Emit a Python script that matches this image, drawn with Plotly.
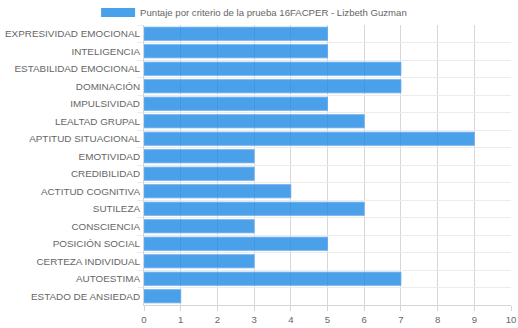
import plotly.graph_objects as go

categories = ["EXPRESIVIDAD EMOCIONAL", "INTELIGENCIA", "ESTABILIDAD EMOCIONAL", "DOMINACIÓN",
              "IMPULSIVIDAD", "LEALTAD GRUPAL", "APTITUD SITUACIONAL", "EMOTIVIDAD",
              "CREDIBILIDAD", "ACTITUD COGNITIVA", "SUTILEZA", "CONSCIENCIA",
              "POSICIÓN SOCIAL", "CERTEZA INDIVIDUAL", "AUTOESTIMA", "ESTADO DE ANSIEDAD"]
values = [5, 5, 7, 7, 5, 6, 9, 3, 3, 4, 6, 3, 5, 3, 7, 1]
series_name = "Puntaje por criterio de la prueba 16FACPER - Lizbeth Guzman"
x_ticks = list(range(0, 11))

bar_fill = "rgba(30,136,229,0.8)"
bar_edge = "rgba(100,170,240,0.9)"

fig = go.Figure()
fig.add_trace(go.Bar(
    x=values, y=categories, orientation="h", name=series_name,
    marker=dict(color=bar_fill, line=dict(color=bar_edge, width=1)),
    width=0.75, showlegend=False,
))
# legend-only entry (wide box like the original)
fig.add_trace(go.Scatter(
    x=[None], y=[None], mode="lines", name=series_name,
    line=dict(color=bar_fill, width=9), showlegend=True, hoverinfo="skip",
))

fig.update_layout(
    width=518, height=328,
    margin=dict(l=144, r=7, t=25, b=23, autoexpand=False),
    plot_bgcolor="white", paper_bgcolor="white",
    font=dict(family="Liberation Sans, Arial, sans-serif", size=9.6, color="#666"),
    showlegend=True,
    legend=dict(orientation="h", x=0.30, xanchor="center", y=1.045, yanchor="middle",
                font=dict(size=9.6, color="#666"), bgcolor="rgba(0,0,0,0)",
                itemwidth=34),
    xaxis=dict(range=[0, 10], tickvals=x_ticks, showgrid=True, gridcolor="#d6d6d6", gridwidth=1,
               zeroline=False, showline=True, linecolor="#d6d6d6", ticks="outside", ticklen=5,
               tickcolor="#d6d6d6", tickfont=dict(size=9.6, color="#666"), fixedrange=True),
    yaxis=dict(categoryorder="array", categoryarray=categories, autorange="reversed",
               tickson="boundaries", showgrid=True, gridcolor="#ececec", ticks="outside",
               ticklen=6, tickcolor="#ececec", showline=True, linecolor="#d6d6d6",
               ticklabelstandoff=1,
               tickfont=dict(size=9.9, color="#666"), fixedrange=True),
)

fig.write_html("out.html")
